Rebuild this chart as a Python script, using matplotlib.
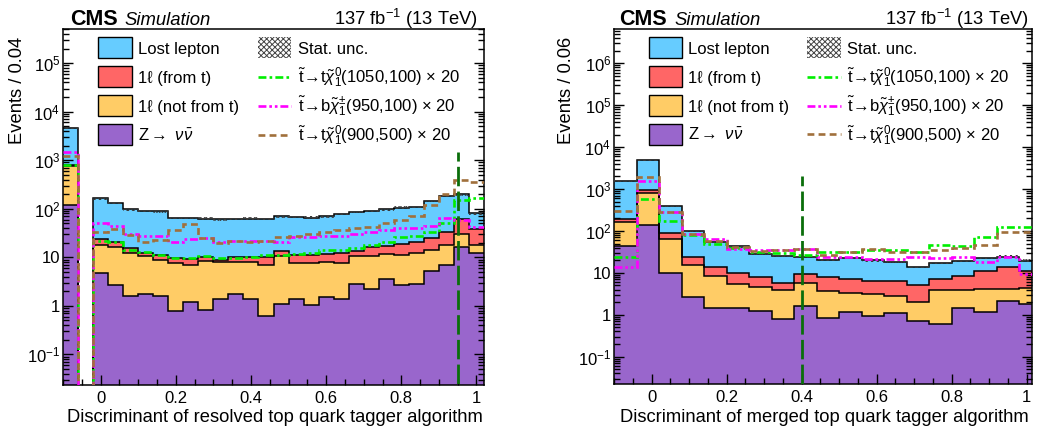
import numpy as np
import matplotlib
matplotlib.use("Agg")
import matplotlib.pyplot as plt
from matplotlib.patches import Rectangle
from matplotlib.lines import Line2D
from matplotlib.ticker import FixedLocator, FuncFormatter, MultipleLocator, NullFormatter

plt.rcParams["font.family"] = ["Liberation Sans", "DejaVu Sans"]
plt.rcParams["mathtext.fontset"] = "custom"
plt.rcParams["mathtext.rm"] = "Liberation Sans"
plt.rcParams["mathtext.it"] = "Liberation Sans:italic"
plt.rcParams["mathtext.bf"] = "Liberation Sans:bold"
plt.rcParams["mathtext.sf"] = "Liberation Sans"
plt.rcParams["hatch.linewidth"] = 0.7

# ---------------- resolved tagger (bin width 0.04) ----------------
res_edges = np.round(np.linspace(-0.10, 1.02, 29), 3)
res_znunu = [119, 0, 4.7, 2.7, 1.6, 1.74, 1.6, 0.80, 1.22, 0.83, 1.41, 1.74, 1.41, 0.63, 1.08,
             1.39, 1.05, 1.53, 1.41, 2.79, 2.2, 3.63, 2.7, 2.79, 5.3, 6.85, 16.5, 12]
res_1l_nott = [641, 0, 13.2, 13.8, 10.4, 8.76, 7.2, 6.7, 5.78, 7.67, 6.59, 6.36, 6.69, 6.47, 9.52,
               6.11, 6.45, 6.47, 6.29, 8.01, 8.6, 7.97, 8.6, 9.21, 8.7, 11.05, 13.2, 5.9]
res_1l_t = [40, 0, 5.6, 4.5, 3.7, 1.9, 2.3, 2.0, 2.2, 1.5, 1.0, 1.9, 1.9, 3.2, 3.1,
            3.5, 3.5, 3.5, 4.3, 2.7, 5.7, 5.4, 7.5, 9.0, 10.5, 15.7, 33.3, 20.1]
res_lostlep = [3800, 0, 139.5, 111, 81.3, 78.6, 76.9, 55.5, 55.8, 53, 52, 52, 53, 51.7, 56.3,
               57, 55, 58.5, 66, 72.5, 73.5, 80, 87.2, 87, 120.5, 148.4, 134, 42]
res_sig_t1050 = [800, 0, 22, 21, 14, 13, 11, 9.5, 9.7, 10.5, 9.5, 9.8, 10.2, 11, 11,
                 11.6, 12.5, 14, 14, 15.3, 18, 21, 26, 28, 34, 50, 150, 170]
res_sig_b950 = [1450, 0, 50, 45, 30, 27, 27, 21, 24, 25, 21, 22, 22, 22, 21,
                26, 26, 27, 28, 30, 33, 36, 40, 41, 44, 66, 60, 42]
res_sig_t900 = [1250, 0, 33, 39, 29, 21, 23, 36, 48, 25, 20, 22, 21, 22, 26,
                28, 30, 34, 36, 40, 43, 52, 60, 72, 120, 200, 400, 350]
res_cut = 0.95
res_cut_top = 1500

# ---------------- merged tagger (bin width 0.06) ----------------
mer_edges = np.round(np.linspace(-0.10, 1.04, 20), 3)
mer_znunu = [43, 140, 9.8, 2.7, 1.43, 1.43, 1.26, 0.78, 1.64, 0.86, 1.19, 0.94, 1.12, 0.72,
             0.59, 1.43, 1.19, 2.14, 1.78]
mer_1l_nott = [117, 680, 54, 12.3, 6.9, 4.1, 3.4, 3.1, 4.1, 2.9, 2.1, 2.2, 1.7, 1.3,
               3.3, 2.4, 3.0, 2.0, 2.5]
mer_1l_t = [30, 110, 25, 8.7, 5.4, 4.3, 3.4, 2.0, 3.5, 4.0, 3.8, 3.1, 3.7, 3.2,
            3.2, 4.8, 6.6, 9.9, 6.6]
mer_lostlep = [1390, 4070, 301, 76, 42, 33, 20.4, 19.6, 14.8, 12.7, 15.3, 13.5, 12.1, 8.9,
               9.9, 10.8, 11.6, 10.5, 8.8]
mer_sig_t1050 = [24, 590, 175, 78, 48, 39, 32, 30, 27, 31, 32, 35, 35, 32, 46, 45, 71, 123, 123]
mer_sig_b950 = [13.7, 1520, 286, 84, 64, 37, 35, 35, 38, 24, 24, 21, 21, 24, 22.5, 24.5, 17.7, 24.5, 9.5]
mer_sig_t900 = [295, 1930, 282, 84, 58, 41, 33, 36, 38, 27, 32, 37, 32, 32, 35, 39, 47, 95, 92]
mer_cut = 0.40
mer_cut_top = 2000

stat_rel = 0.06

bkg_labels = ["Z$\\rightarrow$ $\\nu\\bar{\\nu}$", "1\u2113 (not from t)", "1\u2113 (from t)", "Lost lepton"]
bkg_colors = ["#9966cc", "#ffcc66", "#ff6666", "#66ccff"]
sig_labels = [r"$\tilde{\mathrm{t}}\!\rightarrow\!\mathrm{t}\tilde{\chi}^{0}_{1}$(1050,100) $\times$ 20",
              r"$\tilde{\mathrm{t}}\!\rightarrow\!\mathrm{b}\tilde{\chi}^{\pm}_{1}$(950,100) $\times$ 20",
              r"$\tilde{\mathrm{t}}\!\rightarrow\!\mathrm{t}\tilde{\chi}^{0}_{1}$(900,500) $\times$ 20"]
sig_colors = ["#00ee00", "#ff00ff", "#a0703c"]
sig_styles = [(0, (3.0, 1.2, 1.0, 1.2)), (0, (3.0, 1.1, 1.0, 1.1, 1.0, 1.1)), (0, (2.6, 1.6))]
sig_lw = 1.9


def log_fmt(v, pos):
    e = int(round(np.log10(v)))
    if e == 0:
        return "1"
    if e == 1:
        return "10"
    return "$10^{%d}$" % e


def panel(ax, edges, bkgs, sigs, xlim, ylim, cut, cut_top, xlabel, ylabel, geo):
    floor = ylim[0] * 1e-2
    cum = np.zeros(len(edges) - 1)
    tops = []
    for vals in bkgs:
        cum = cum + np.asarray(vals, float)
        tops.append(cum.copy())
    for top, col in zip(reversed(tops), reversed(bkg_colors)):
        ax.stairs(np.maximum(top, floor), edges, baseline=floor, fill=True,
                  facecolor=col, edgecolor="none", lw=0, zorder=1)
    for top in tops:
        ax.stairs(np.maximum(top, floor), edges, baseline=None, color="black", lw=1.1, zorder=2)
    total = tops[-1]
    ax.stairs(np.maximum(total * (1 + stat_rel), floor), edges,
              baseline=np.maximum(total * (1 - stat_rel), floor), fill=True,
              facecolor="none", edgecolor="#3a3a3a", hatch="xxxxxx", lw=0, zorder=3)
    for vals, col, ls in zip(sigs, sig_colors, sig_styles):
        ax.stairs(np.maximum(np.asarray(vals, float), floor), edges, baseline=None,
                  color=col, lw=sig_lw, linestyle=ls, zorder=4)
    ax.vlines(cut, floor, cut_top, colors="#0a6e0a", lw=2.0,
              linestyles=[(0, (7.0, 1.9))], zorder=5)

    ax.set_xlim(*xlim)
    ax.set_yscale("log")
    ax.set_ylim(*ylim)
    e_lo, e_hi = int(np.ceil(np.log10(ylim[0]))), int(np.floor(np.log10(ylim[1])))
    majors = [10.0 ** e for e in range(e_lo, e_hi + 1)]
    minors = [m * 10.0 ** e for e in range(e_lo - 1, e_hi + 1) for m in range(2, 10)
              if ylim[0] <= m * 10.0 ** e <= ylim[1]]
    ax.yaxis.set_major_locator(FixedLocator(majors))
    ax.yaxis.set_minor_locator(FixedLocator(minors))
    ax.yaxis.set_major_formatter(FuncFormatter(log_fmt))
    ax.yaxis.set_minor_formatter(NullFormatter())
    ax.xaxis.set_major_locator(MultipleLocator(0.2))
    ax.xaxis.set_minor_locator(MultipleLocator(0.05))
    ax.xaxis.set_major_formatter(FuncFormatter(lambda v, p: "%g" % round(v, 2)))
    ax.tick_params(which="both", direction="in", right=True, top=False, width=1.0, labelsize=12)
    ax.tick_params(which="major", length=7.5)
    ax.tick_params(which="minor", length=4)
    ax.tick_params(axis="x", pad=4)
    ax.tick_params(axis="y", pad=2)
    for s in ax.spines.values():
        s.set_linewidth(1.1)

    # labels
    ax.text(geo["xl"][0], geo["xl"][1], xlabel, transform=ax.transAxes, ha="right",
            va="baseline", fontsize=13.2)
    ax.text(geo["yl"][0], 0.978, ylabel, transform=ax.transAxes, rotation=90, ha="center",
            va="top", fontsize=13.2)
    ax.text(geo["cms"], 1.011, "CMS", transform=ax.transAxes, ha="left", va="baseline",
            fontsize=15.5, fontweight="bold")
    ax.text(geo["sim"], 1.011, "Simulation", transform=ax.transAxes, ha="left", va="baseline",
            fontsize=13.3, style="italic")
    ax.text(geo["lumi"], 1.011, r"137 fb$^{-1}$ (13 TeV)", transform=ax.transAxes, ha="right",
            va="baseline", fontsize=13.2)

    # legend (two columns, four rows)
    y0, dy = 0.9475, 0.0815
    hx1, hx2, hw, hh = 0.083, 0.462, 0.080, 0.058
    tx1, tx2 = 0.178, 0.558
    for i, (lab, col) in enumerate(zip(reversed(bkg_labels), reversed(bkg_colors))):
        y = y0 - i * dy
        ax.add_patch(Rectangle((hx1, y - hh / 2), hw, hh, transform=ax.transAxes,
                               facecolor=col, edgecolor="black", lw=1.0, clip_on=False, zorder=6))
        ax.text(tx1, y - 0.017, lab, transform=ax.transAxes, ha="left", va="baseline", fontsize=12)
    ax.add_patch(Rectangle((hx2, y0 - hh / 2), hw, hh, transform=ax.transAxes,
                           facecolor="white", edgecolor="#444444", hatch="xxxxxx", lw=0,
                           clip_on=False, zorder=6))
    ax.text(tx2, y0 - 0.017, "Stat. unc.", transform=ax.transAxes, ha="left", va="baseline",
            fontsize=12)
    for i, (lab, col, ls) in enumerate(zip(sig_labels, sig_colors, sig_styles)):
        y = y0 - (i + 1) * dy
        ax.add_line(Line2D([hx2, hx2 + hw], [y, y], transform=ax.transAxes, color=col,
                           lw=sig_lw, linestyle=ls, zorder=6))
        ax.text(tx2, y - 0.017, lab, transform=ax.transAxes, ha="left", va="baseline", fontsize=12)


fig = plt.figure(figsize=(10.39, 4.32), dpi=100)
ax1 = fig.add_axes([63 / 1039, 47 / 432, 421 / 1039, 356 / 432])
ax2 = fig.add_axes([614 / 1039, 48 / 432, 418 / 1039, 355 / 432])

panel(ax1, res_edges, [res_znunu, res_1l_nott, res_1l_t, res_lostlep],
      [res_sig_t1050, res_sig_b950, res_sig_t900], (-0.10, 1.02), (0.0234, 5.06e5),
      res_cut, res_cut_top, "Discriminant of resolved top quark tagger algorithm",
      "Events / 0.04",
      dict(xl=(0.998, -0.104), yl=(-0.107,), cms=0.017, sim=0.145, lumi=0.986))
panel(ax2, mer_edges, [mer_znunu, mer_1l_nott, mer_1l_t, mer_lostlep],
      [mer_sig_t1050, mer_sig_b950, mer_sig_t900], (-0.10, 1.014), (0.0223, 6.6e6),
      mer_cut, mer_cut_top, "Discriminant of merged top quark tagger algorithm",
      "Events / 0.06",
      dict(xl=(0.993, -0.107), yl=(-0.114,), cms=0.012, sim=0.144, lumi=0.993))

fig.savefig("out.png", dpi=100, facecolor="white")
